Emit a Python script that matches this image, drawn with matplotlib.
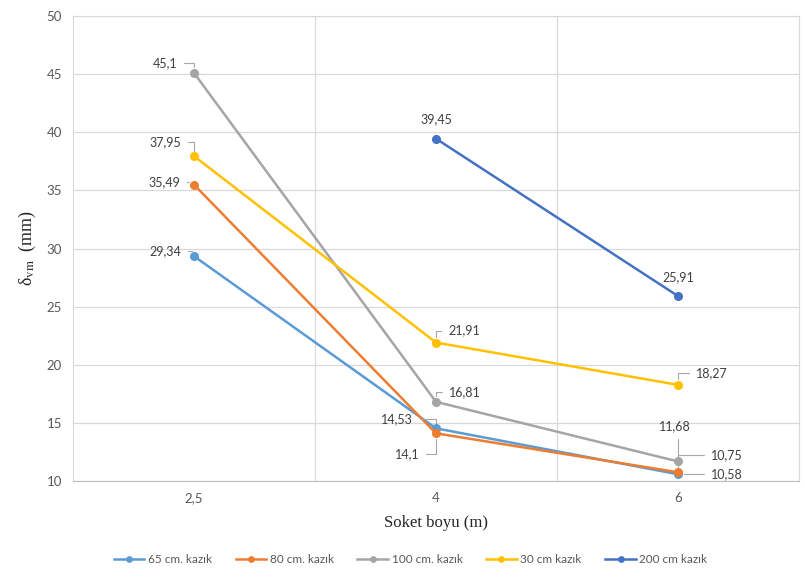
import numpy as np
import matplotlib
matplotlib.use("Agg")
import matplotlib.pyplot as plt

# Socket lengths (categorical x axis)
soket_boyu = ["2,5", "4", "6"]

# Settlement values (mm) per pile series
kazik_65 = [29.34, 14.53, 10.58]
kazik_80 = [35.49, 14.10, 10.75]
kazik_100 = [45.10, 16.81, 11.68]
kazik_30 = [37.95, 21.91, 18.27]
kazik_200 = [np.nan, 39.45, 25.91]

series_names = ["65 cm. kazık", "80 cm. kazık", "100 cm. kazık", "30 cm kazık", "200 cm kazık"]
series_values = [kazik_65, kazik_80, kazik_100, kazik_30, kazik_200]
series_colors = ["#5B9BD5", "#ED7D31", "#A5A5A5", "#FFC000", "#4472C4"]

# Label offsets (pixels) and whether a leader line is drawn, per series/point
label_offsets = [
    [(-29, 5, True), (-39, 9, True), (49, 0, True)],
    [(-30, 3, True), (-29, -21, True), (49, 17, True)],
    [(-29, 10, True), (29, 10, True), (-3, 35, True)],
    [(-29, 14, True), (28, 12, True), (34, 12, True)],
    [None, (0, 20, False), (0, 19, False)],
]

plt.rcParams["font.family"] = ["Lato", "DejaVu Sans"]
plt.rcParams["mathtext.fontset"] = "stix"

fig = plt.figure(figsize=(8.05, 5.85), dpi=100)
ax = fig.add_axes([0.0907, 0.1778, 0.9018, 0.7948])

x = np.arange(len(soket_boyu))
for name, vals, col in zip(series_names, series_values, series_colors):
    ax.plot(x, vals, color=col, lw=1.8, marker="o", markersize=5.5,
            label=name, zorder=3)

def fmt(v):
    s = ("%.2f" % v).rstrip("0").rstrip(".")
    return s.replace(".", ",")

for vals, offs in zip(series_values, label_offsets):
    for xi, v, off in zip(x, vals, offs):
        if off is None or np.isnan(v):
            continue
        dx, dy, leader = off
        kw = {}
        if leader:
            kw["arrowprops"] = dict(arrowstyle="-", color="#a6a6a6", lw=0.8,
                                    shrinkA=3, shrinkB=4,
                                    connectionstyle="angle,angleA=0,angleB=90,rad=0")
        ax.annotate(fmt(v), xy=(xi, v), xytext=(dx, dy),
                    textcoords="offset pixels", ha="center", va="center",
                    fontsize=9, color="#404040", zorder=4, **kw)

ax.set_xlim(-0.5, 2.5)
ax.set_ylim(10, 50)
ax.set_yticks(np.arange(10, 51, 5))
ax.set_xticks(x)
ax.set_xticklabels(soket_boyu)
ax.set_xticks([0.5, 1.5], minor=True)
ax.tick_params(axis="x", which="minor", length=0)
ax.tick_params(axis="both", which="major", length=0, labelsize=9.5,
               labelcolor="#595959", pad=8)
ax.grid(axis="y", which="major", color="#d9d9d9", lw=0.9)
ax.grid(axis="x", which="minor", color="#d9d9d9", lw=0.9)
ax.set_axisbelow(True)
for side in ["top", "right", "left"]:
    ax.spines[side].set_color("#d9d9d9")
ax.spines["bottom"].set_color("#bfbfbf")

ax.set_xlabel("Soket boyu (m)", family="Liberation Serif", fontsize=12,
              color="#262626", labelpad=8)
ax.set_ylabel("δ$_{\\mathrm{vm}}$  (mm)", family="Liberation Serif",
              fontsize=13, color="#262626", labelpad=6)

leg = fig.legend(loc="center", bbox_to_anchor=(0.51, 0.043), ncol=5,
                 frameon=False, fontsize=8.5, handlelength=2.6,
                 columnspacing=2.0, handletextpad=0.3, markerscale=0.7)
for t in leg.get_texts():
    t.set_color("#595959")

fig.savefig("out.png", dpi=100)
